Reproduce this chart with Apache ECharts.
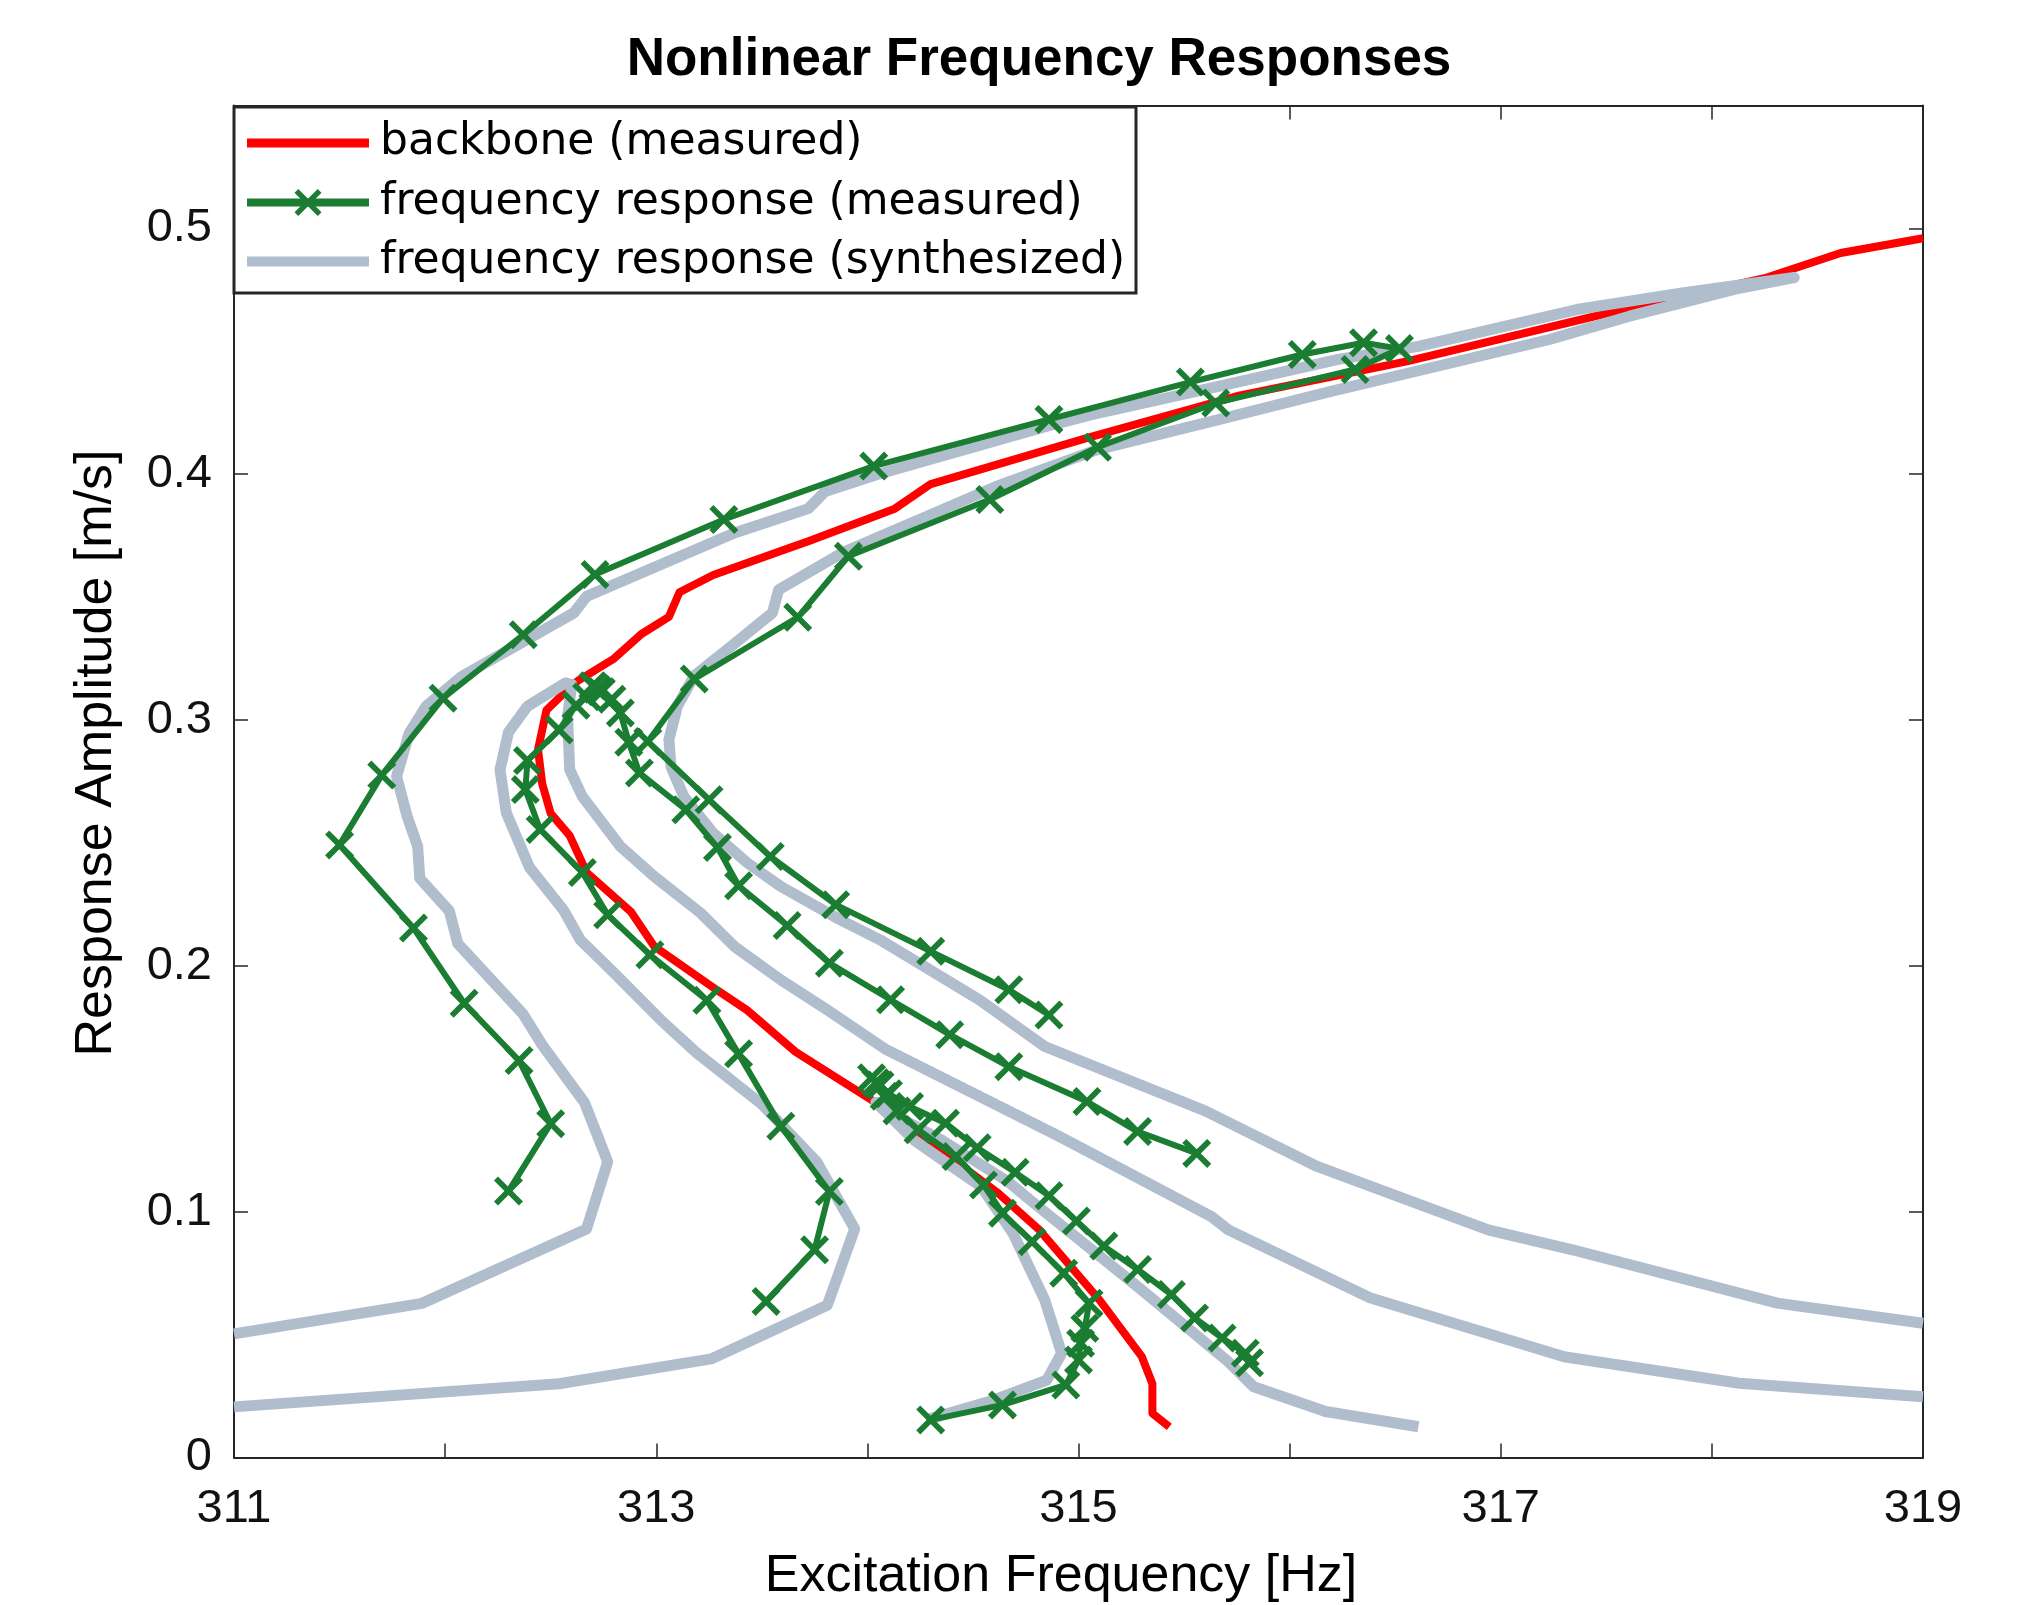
<!DOCTYPE html>
<html><head><meta charset="utf-8">
<script src="https://cdn.jsdelivr.net/npm/echarts@6/dist/echarts.min.js"></script>
<style>html,body{margin:0;padding:0;background:#fff}#c{width:2017px;height:1605px}</style>
</head><body><div id="c"></div><script>
// ---- axis ticks ----
const xTicks = [311, 312, 313, 314, 315, 316, 317, 318, 319];
const yTicks = [0, 0.1, 0.2, 0.3, 0.4, 0.5];

// ---- backbone (measured) ----
const backbone = [[319.00,0.496],[318.61,0.490],[318.26,0.480],[317.53,0.466],[316.56,0.446],[315.76,0.432],[315.05,0.415],[314.30,0.396],[314.13,0.386],[313.73,0.373],[313.27,0.359],[313.11,0.352],[313.06,0.342],[312.93,0.335],[312.80,0.325],[312.63,0.316],[312.60,0.314],[312.48,0.304],[312.44,0.288],[312.46,0.274],[312.50,0.262],[312.59,0.253],[312.67,0.238],[312.88,0.222],[312.99,0.208],[313.29,0.190],[313.43,0.182],[313.66,0.165],[314.01,0.146],[314.30,0.128],[314.62,0.1075],[314.81,0.093],[315.10,0.064],[315.30,0.041],[315.35,0.030],[315.35,0.018],[315.43,0.0125]];

// ---- frequency response (measured) ----
const measA = [[312.30,0.1084],[312.50,0.1358],[312.35,0.1615],[312.09,0.1848],[311.85,0.2154],[311.50,0.2492],[311.70,0.2776],[311.99,0.3089],[312.37,0.3347],[312.71,0.3592],[313.32,0.3816],[314.03,0.4033],[314.86,0.4223],[315.53,0.4375],[316.06,0.4487],[316.35,0.4535],[316.52,0.4511],[316.31,0.4426],[315.65,0.4290],[315.09,0.4110],[314.58,0.3897],[313.91,0.3666],[313.67,0.3418],[313.18,0.3167],[312.96,0.2913],[313.25,0.2676],[313.54,0.2445],[313.85,0.2249],[314.30,0.2059],[314.67,0.1903],[314.86,0.1800]];
const measB = [[312.70,0.3140],[312.74,0.3115],[312.79,0.3085],[312.83,0.3029],[312.87,0.2910],[312.92,0.2785],[313.14,0.2635],[313.29,0.2482],[313.39,0.2326],[313.62,0.2164],[313.82,0.2011],[314.11,0.1862],[314.39,0.1720],[314.67,0.1590],[315.04,0.1448],[315.28,0.1326],[315.56,0.1237]];
const measC = [[312.72,0.3125],[312.67,0.3095],[312.62,0.3060],[312.54,0.2960],[312.39,0.2835],[312.38,0.2717],[312.45,0.2555],[312.65,0.2380],[312.77,0.2208],[312.97,0.2045],[313.24,0.1860],[313.39,0.1642],[313.59,0.1348],[313.82,0.1082],[313.75,0.0845],[313.52,0.0635]];
const measD = [[314.02,0.1545],[314.06,0.1515],[314.10,0.1480],[314.20,0.1428],[314.37,0.1360],[314.52,0.1260],[314.70,0.1160],[314.86,0.1065],[314.99,0.0962],[315.12,0.0860],[315.28,0.0765],[315.44,0.0663],[315.55,0.0568],[315.68,0.0486],[315.79,0.0424],[315.81,0.0385]];
const measE = [[314.04,0.1525],[314.08,0.1470],[314.14,0.1410],[314.24,0.1333],[314.42,0.1224],[314.55,0.1109],[314.64,0.0994],[314.78,0.0878],[314.93,0.0750],[315.05,0.0628],[315.03,0.0526],[315.01,0.0465],[315.00,0.0397],[314.94,0.0295],[314.64,0.0214],[314.30,0.0153]];

// ---- frequency response (synthesized) ----
const synthA = [[311.00,0.0503],[311.89,0.0627],[312.67,0.093],[312.77,0.1203],[312.66,0.1444],[312.46,0.1678],[312.37,0.1803],[312.06,0.2091],[312.02,0.2223],[311.88,0.2356],[311.87,0.2486],[311.82,0.2608],[311.77,0.2771],[311.83,0.2947],[311.91,0.3056],[312.08,0.3178],[312.36,0.3314],[312.61,0.3436],[312.67,0.3503],[313.37,0.3761],[313.72,0.3860],[313.80,0.3930],[314.05,0.4000],[314.85,0.4195],[315.10,0.4250],[315.60,0.4345],[316.23,0.4467],[316.61,0.4520],[317.36,0.4670],[317.86,0.4738],[318.39,0.4800],[318.11,0.4753],[317.61,0.4643],[317.23,0.4548],[316.63,0.4425],[316.21,0.4340],[315.63,0.4215],[315.09,0.4100],[314.61,0.3950],[313.88,0.3680],[313.58,0.3530],[313.55,0.3436],[313.37,0.3310],[313.18,0.3180],[313.10,0.3056],[313.06,0.2920],[313.07,0.2810],[313.13,0.2690],[313.27,0.2540],[313.43,0.2420],[313.59,0.2323],[313.87,0.2188],[314.06,0.2106],[314.53,0.1862],[314.84,0.1672],[315.60,0.1410],[316.13,0.1184],[316.94,0.0926],[317.34,0.0845],[318.31,0.0628],[319.00,0.0546]];
const synthB = [[311.00,0.0206],[312.54,0.0300],[313.26,0.0401],[313.81,0.0619],[313.94,0.0930],[313.76,0.1203],[313.50,0.1437],[313.19,0.1647],[313.02,0.1781],[312.80,0.1971],[312.64,0.2106],[312.56,0.2228],[312.40,0.2400],[312.29,0.2622],[312.26,0.2798],[312.30,0.2950],[312.39,0.3056],[312.57,0.3151],[312.60,0.3144],[312.58,0.3015],[312.59,0.2798],[312.65,0.2689],[312.83,0.2486],[312.99,0.2364],[313.21,0.2215],[313.37,0.2079],[313.59,0.1943],[313.81,0.1821],[314.09,0.1659],[314.91,0.1306],[315.63,0.0980],[315.71,0.0926],[316.38,0.0650],[317.30,0.0410],[318.13,0.0302],[319.00,0.0247]];
const synthC = [[314.28,0.0153],[314.60,0.0234],[314.85,0.0315],[314.92,0.0424],[314.84,0.0641],[314.69,0.0912],[314.54,0.1102],[314.40,0.1184],[314.22,0.1292],[314.04,0.1445],[314.18,0.1370],[314.35,0.1292],[314.67,0.1120],[314.77,0.1048],[315.28,0.0695],[315.70,0.0397],[315.83,0.0288],[316.17,0.0187],[316.61,0.0125]];

const NAME_BB = 'backbone (measured)';
const NAME_MEAS = 'frequency response (measured)';
const NAME_SYN = 'frequency response (synthesized)';
const legendNames = [NAME_BB, NAME_MEAS, NAME_SYN];

const RED = '#ff0000', GREEN = '#1b7d32', GRAY = '#b0bdcc', AXC = '#262626';
const XSYM = 'path://M1.4,0L5,3.6L8.6,0L10,1.4L6.4,5L10,8.6L8.6,10L5,6.4L1.4,10L0,8.6L3.6,5L0,1.4Z';
const XPTS = [[1.4,0],[5,3.6],[8.6,0],[10,1.4],[6.4,5],[10,8.6],[8.6,10],[5,6.4],[1.4,10],[0,8.6],[3.6,5],[0,1.4]];

const chart = echarts.init(document.getElementById('c'), null, {renderer: 'canvas', width: 2017, height: 1605});

function axisCommon(extra) {
  return Object.assign({
    type: 'value',
    axisLine: {show: true, onZero: false, lineStyle: {color: AXC, width: 2}},
    axisTick: {show: true, inside: true, length: 14, lineStyle: {color: AXC, width: 1.5}},
    splitLine: {show: false},
    minorTick: {show: false}
  }, extra);
}

const measSeries = [measA, measB, measC, measD, measE].map(d => ({
  name: NAME_MEAS, type: 'line', data: d, z: 4,
  symbol: XSYM, symbolSize: 29, showSymbol: true,
  itemStyle: {color: GREEN},
  lineStyle: {color: GREEN, width: 6, join: 'round', cap: 'round'},
  silent: true
}));
const synSeries = [synthA, synthB, synthC].map(d => ({
  name: NAME_SYN, type: 'line', data: d, z: 3,
  symbol: 'none', showSymbol: false,
  itemStyle: {color: GRAY},
  lineStyle: {color: GRAY, width: 11, join: 'round', cap: 'butt'},
  silent: true
}));

// legend drawn as graphic (box, line samples, marker, texts)
const LG = {x: 234, y: 107, w: 902, h: 186, lx0: 247, lx1: 369, tx: 380, rows: [143, 202.5, 261.5]};
function xMarker(cx, cy, s) {
  return XPTS.map(p => [cx - s / 2 + p[0] * s / 10, cy - s / 2 + p[1] * s / 10]);
}
const legendGraphic = [
  {type: 'rect', z: 30, shape: {x: LG.x, y: LG.y, width: LG.w, height: LG.h}, style: {fill: '#fff', stroke: AXC, lineWidth: 3}},
  {type: 'line', z: 31, shape: {x1: LG.lx0, y1: LG.rows[0], x2: LG.lx1, y2: LG.rows[0]}, style: {stroke: RED, lineWidth: 9}},
  {type: 'line', z: 31, shape: {x1: LG.lx0, y1: LG.rows[1], x2: LG.lx1, y2: LG.rows[1]}, style: {stroke: GREEN, lineWidth: 8}},
  {type: 'polygon', z: 32, shape: {points: xMarker((LG.lx0 + LG.lx1) / 2, LG.rows[1], 27)}, style: {fill: GREEN}},
  {type: 'line', z: 31, shape: {x1: LG.lx0, y1: LG.rows[2], x2: LG.lx1, y2: LG.rows[2]}, style: {stroke: GRAY, lineWidth: 10}}
].concat(legendNames.map((n, i) => ({
  type: 'text', z: 33, x: LG.tx, y: LG.rows[i],
  style: {text: n, fontSize: 44, fontFamily: 'DejaVu Sans', fill: '#000', align: 'left', verticalAlign: 'middle'}
})));

const option = {
  backgroundColor: '#ffffff',
  animation: false,
  grid: {left: 234, top: 105.5, width: 1689, height: 1352, containLabel: false},
  xAxis: [
    axisCommon({position: 'bottom', min: xTicks[0], max: xTicks[xTicks.length-1], interval: 1,
      axisLabel: {show: true, margin: 28, fontSize: 47, fontFamily: 'Liberation Sans', color: '#111',
        formatter: v => (Math.round(v) % 2 === 1 ? String(Math.round(v)) : '')}}),
    axisCommon({position: 'top', min: xTicks[0], max: xTicks[xTicks.length-1], interval: 1, axisLabel: {show: false}})
  ],
  yAxis: [
    axisCommon({position: 'left', min: 0, max: 0.55, interval: 0.1,
      axisLabel: {show: true, margin: 22, fontSize: 47, fontFamily: 'Liberation Sans', color: '#111', showMaxLabel: false,
        formatter: v => {
          const k = Math.round(v * 10);
          if (Math.abs(v * 10 - k) > 1e-6 || k > 5) return '';
          return yTicks[k] === 0 ? '0' : yTicks[k].toFixed(1);
        }}}),
    axisCommon({position: 'right', min: 0, max: 0.55, interval: 0.1, axisLabel: {show: false}})
  ],
  graphic: [
    {type: 'text', x: 1039, y: 60, z: 20, style: {text: 'Nonlinear Frequency Responses', fontSize: 53, fontWeight: 'bold', fontFamily: 'Liberation Sans', fill: '#000', align: 'center', verticalAlign: 'middle'}},
    {type: 'text', x: 1061, y: 1577, z: 20, style: {text: 'Excitation Frequency [Hz]', fontSize: 52, fontFamily: 'Liberation Sans', fill: '#000', align: 'center', verticalAlign: 'middle'}},
    {type: 'text', x: 97, y: 753, rotation: Math.PI / 2, z: 20, style: {text: 'Response Amplitude [m/s]', fontSize: 52, fontFamily: 'Liberation Sans', fill: '#000', align: 'center', verticalAlign: 'middle'}}
  ].concat(legendGraphic),
  series: [
    {name: NAME_BB, type: 'line', data: backbone, z: 2, symbol: 'none', showSymbol: false,
      itemStyle: {color: RED}, lineStyle: {color: RED, width: 8, join: 'round'}, silent: true}
  ].concat(measSeries, synSeries)
};
chart.setOption(option);
</script></body></html>
